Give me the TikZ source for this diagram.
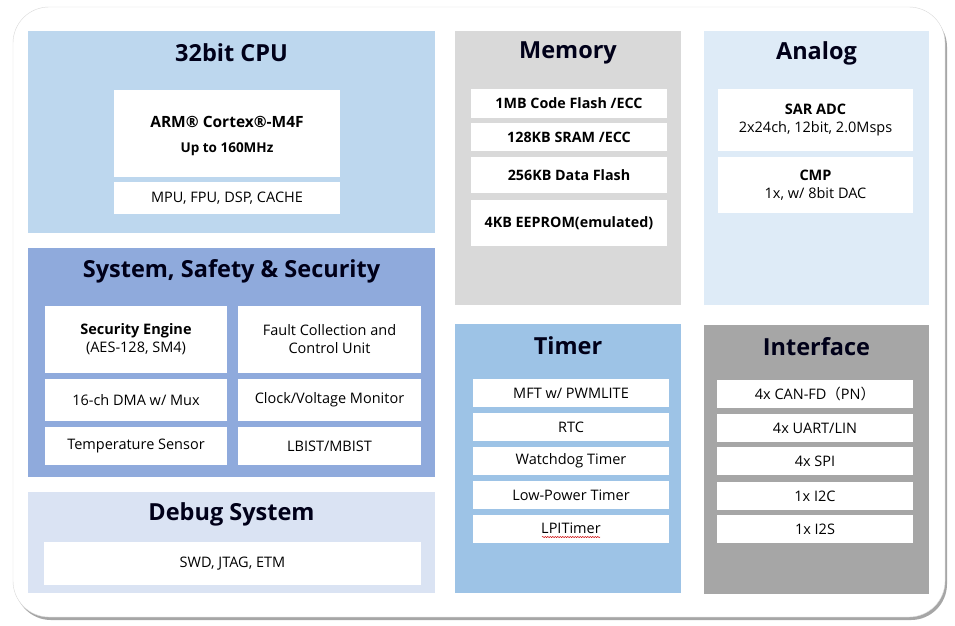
\documentclass[tikz,border=0pt]{standalone}
\usepackage{fontspec}
\setmainfont{Open Sans}
\newfontfamily\cjkfont{Noto Sans CJK SC}
\usetikzlibrary{decorations.pathmorphing}

\definecolor{cpublue}{HTML}{BDD7EE}
\definecolor{sssblue}{HTML}{8FAADC}
\definecolor{dbgblue}{HTML}{DAE3F3}
\definecolor{memgray}{HTML}{D9D9D9}
\definecolor{anablue}{HTML}{DEEBF7}
\definecolor{tmrblue}{HTML}{9DC3E6}
\definecolor{itfgray}{HTML}{A6A6A6}

\begin{document}
\begin{tikzpicture}[x=1pt,y=-1pt,
	panel/.style={inner sep=0pt,outer sep=0pt},
	ttl/.style={font=\fontsize{23.5}{26}\selectfont\bfseries,text=black!90!blue},
	blk/.style={fill=white,inner sep=0pt,outer sep=0pt,align=center,font=\fontsize{14.5}{18}\selectfont},
	bblk/.style={blk,font=\fontsize{14.3}{18}\selectfont\bfseries}]
\useasboundingbox (0,0) rectangle (955,625);
% frame
\fill[black!35,rounded corners=36pt] (15,11) rectangle (947,620);
\draw[black!15,fill=white,rounded corners=36pt] (13,7) rectangle (945,617);

% panels
\path (231.5,132) node[panel,fill=cpublue,minimum width=407,minimum height=202] (cpu) {}
		(231.5,362.5) node[panel,fill=sssblue,minimum width=407,minimum height=229] (sss) {}
		(231.5,542.5) node[panel,fill=dbgblue,minimum width=407,minimum height=101] (dbg) {}
		(568,168) node[panel,fill=memgray,minimum width=226,minimum height=274] (mem) {}
		(816.5,168) node[panel,fill=anablue,minimum width=225,minimum height=274] (ana) {}
		(568,458.5) node[panel,fill=tmrblue,minimum width=226,minimum height=269] (tmr) {}
		(816.5,459) node[panel,fill=itfgray,minimum width=225,minimum height=269] (itf) {}
		;

% titles
\path (231.5,53) node[ttl] (cputtl) {32bit CPU}
		(231.5,271) node[ttl] (ssttl) {System, Safety \& Security}
		(231.5,514) node[ttl] (dbgttl) {Debug System}
		(568,53) node[ttl] (memttl) {Memory}
		(816.5,53) node[ttl] (anattl) {Analog}
		(568,346) node[ttl] (tmrttl) {Timer}
		(816.5,347) node[ttl] (itfttl) {Interface}
		;

% 32bit CPU
\path (227,133.5) node[blk,minimum width=226,minimum height=87] (arm) {}
		(227,122) node[font=\fontsize{15.5}{18}\selectfont\bfseries] (armtxt) {ARM® Cortex®-M4F}
		(227,149) node[font=\fontsize{13.5}{16}\selectfont\bfseries] (freq) {Up to 160MHz}
		(227,198) node[blk,minimum width=226,minimum height=32] (mpu) {MPU, FPU, DSP, CACHE}
		;

% System, Safety & Security
\path (136,339.5) node[blk,minimum width=182,minimum height=67] (sec) {\textbf{Security Engine}\\(AES-128, SM4)}
		(329.5,339.5) node[blk,minimum width=183,minimum height=67] (fcu) {Fault Collection and\\Control Unit}
		(136,400) node[blk,minimum width=182,minimum height=42] (dma) {16-ch DMA w/ Mux}
		(329.5,400) node[blk,minimum width=183,minimum height=42] (cvm) {Clock/Voltage Monitor}
		(136,446) node[blk,minimum width=182,minimum height=38] (temp) {Temperature Sensor}
		(329.5,446) node[blk,minimum width=183,minimum height=38] (bist) {LBIST/MBIST}
		;

% Debug System
\path (232.5,563.5) node[blk,minimum width=377,minimum height=43] (swd) {SWD, JTAG, ETM};

% Memory
\path (569,103.5) node[bblk,minimum width=196,minimum height=29] (cflash) {1MB Code Flash /ECC}
		(569,137) node[bblk,minimum width=196,minimum height=28] (sram) {128KB SRAM /ECC}
		(569,175) node[bblk,minimum width=196,minimum height=36] (dflash) {256KB Data Flash}
		(569,223) node[bblk,minimum width=196,minimum height=46] (eeprom) {4KB EEPROM(emulated)}
		;

% Analog
\path (815.5,120) node[blk,minimum width=195,minimum height=62] (adc) {\textbf{SAR ADC}\\2x24ch, 12bit, 2.0Msps}
		(815.5,185) node[blk,minimum width=195,minimum height=56] (cmp) {\textbf{CMP}\\1x, w/ 8bit DAC}
		;

% Timer
\path (571,393) node[blk,minimum width=196,minimum height=28] (mft) {MFT w/ PWMLITE}
		(571,427) node[blk,minimum width=196,minimum height=28] (rtc) {RTC}
		(571,461) node[blk,minimum width=196,minimum height=28] (wdt) {Watchdog Timer}
		(571,495) node[blk,minimum width=196,minimum height=28] (lpt) {Low-Power Timer}
		(571,528.5) node[blk,minimum width=196,minimum height=28] (lpit) {LPITimer}
		;
\draw[red!80!black,line width=0.5pt,decorate,decoration={snake,amplitude=0.6pt,segment length=2.5pt}]
	([xshift=-29pt,yshift=-8.5pt]lpit.center) -- ([xshift=29pt,yshift=-8.5pt]lpit.center);

% Interface
\path (815,394) node[blk,minimum width=196,minimum height=28] (can) {4x CAN-FD{\cjkfont （}PN{\cjkfont ）}}
		(815,428) node[blk,minimum width=196,minimum height=28] (uart) {4x UART/LIN}
		(815,461) node[blk,minimum width=196,minimum height=28] (spi) {4x SPI}
		(815,496) node[blk,minimum width=196,minimum height=28] (iic) {1x I2C}
		(815,529) node[blk,minimum width=196,minimum height=28] (iis) {1x I2S}
		;
\end{tikzpicture}
\end{document}
